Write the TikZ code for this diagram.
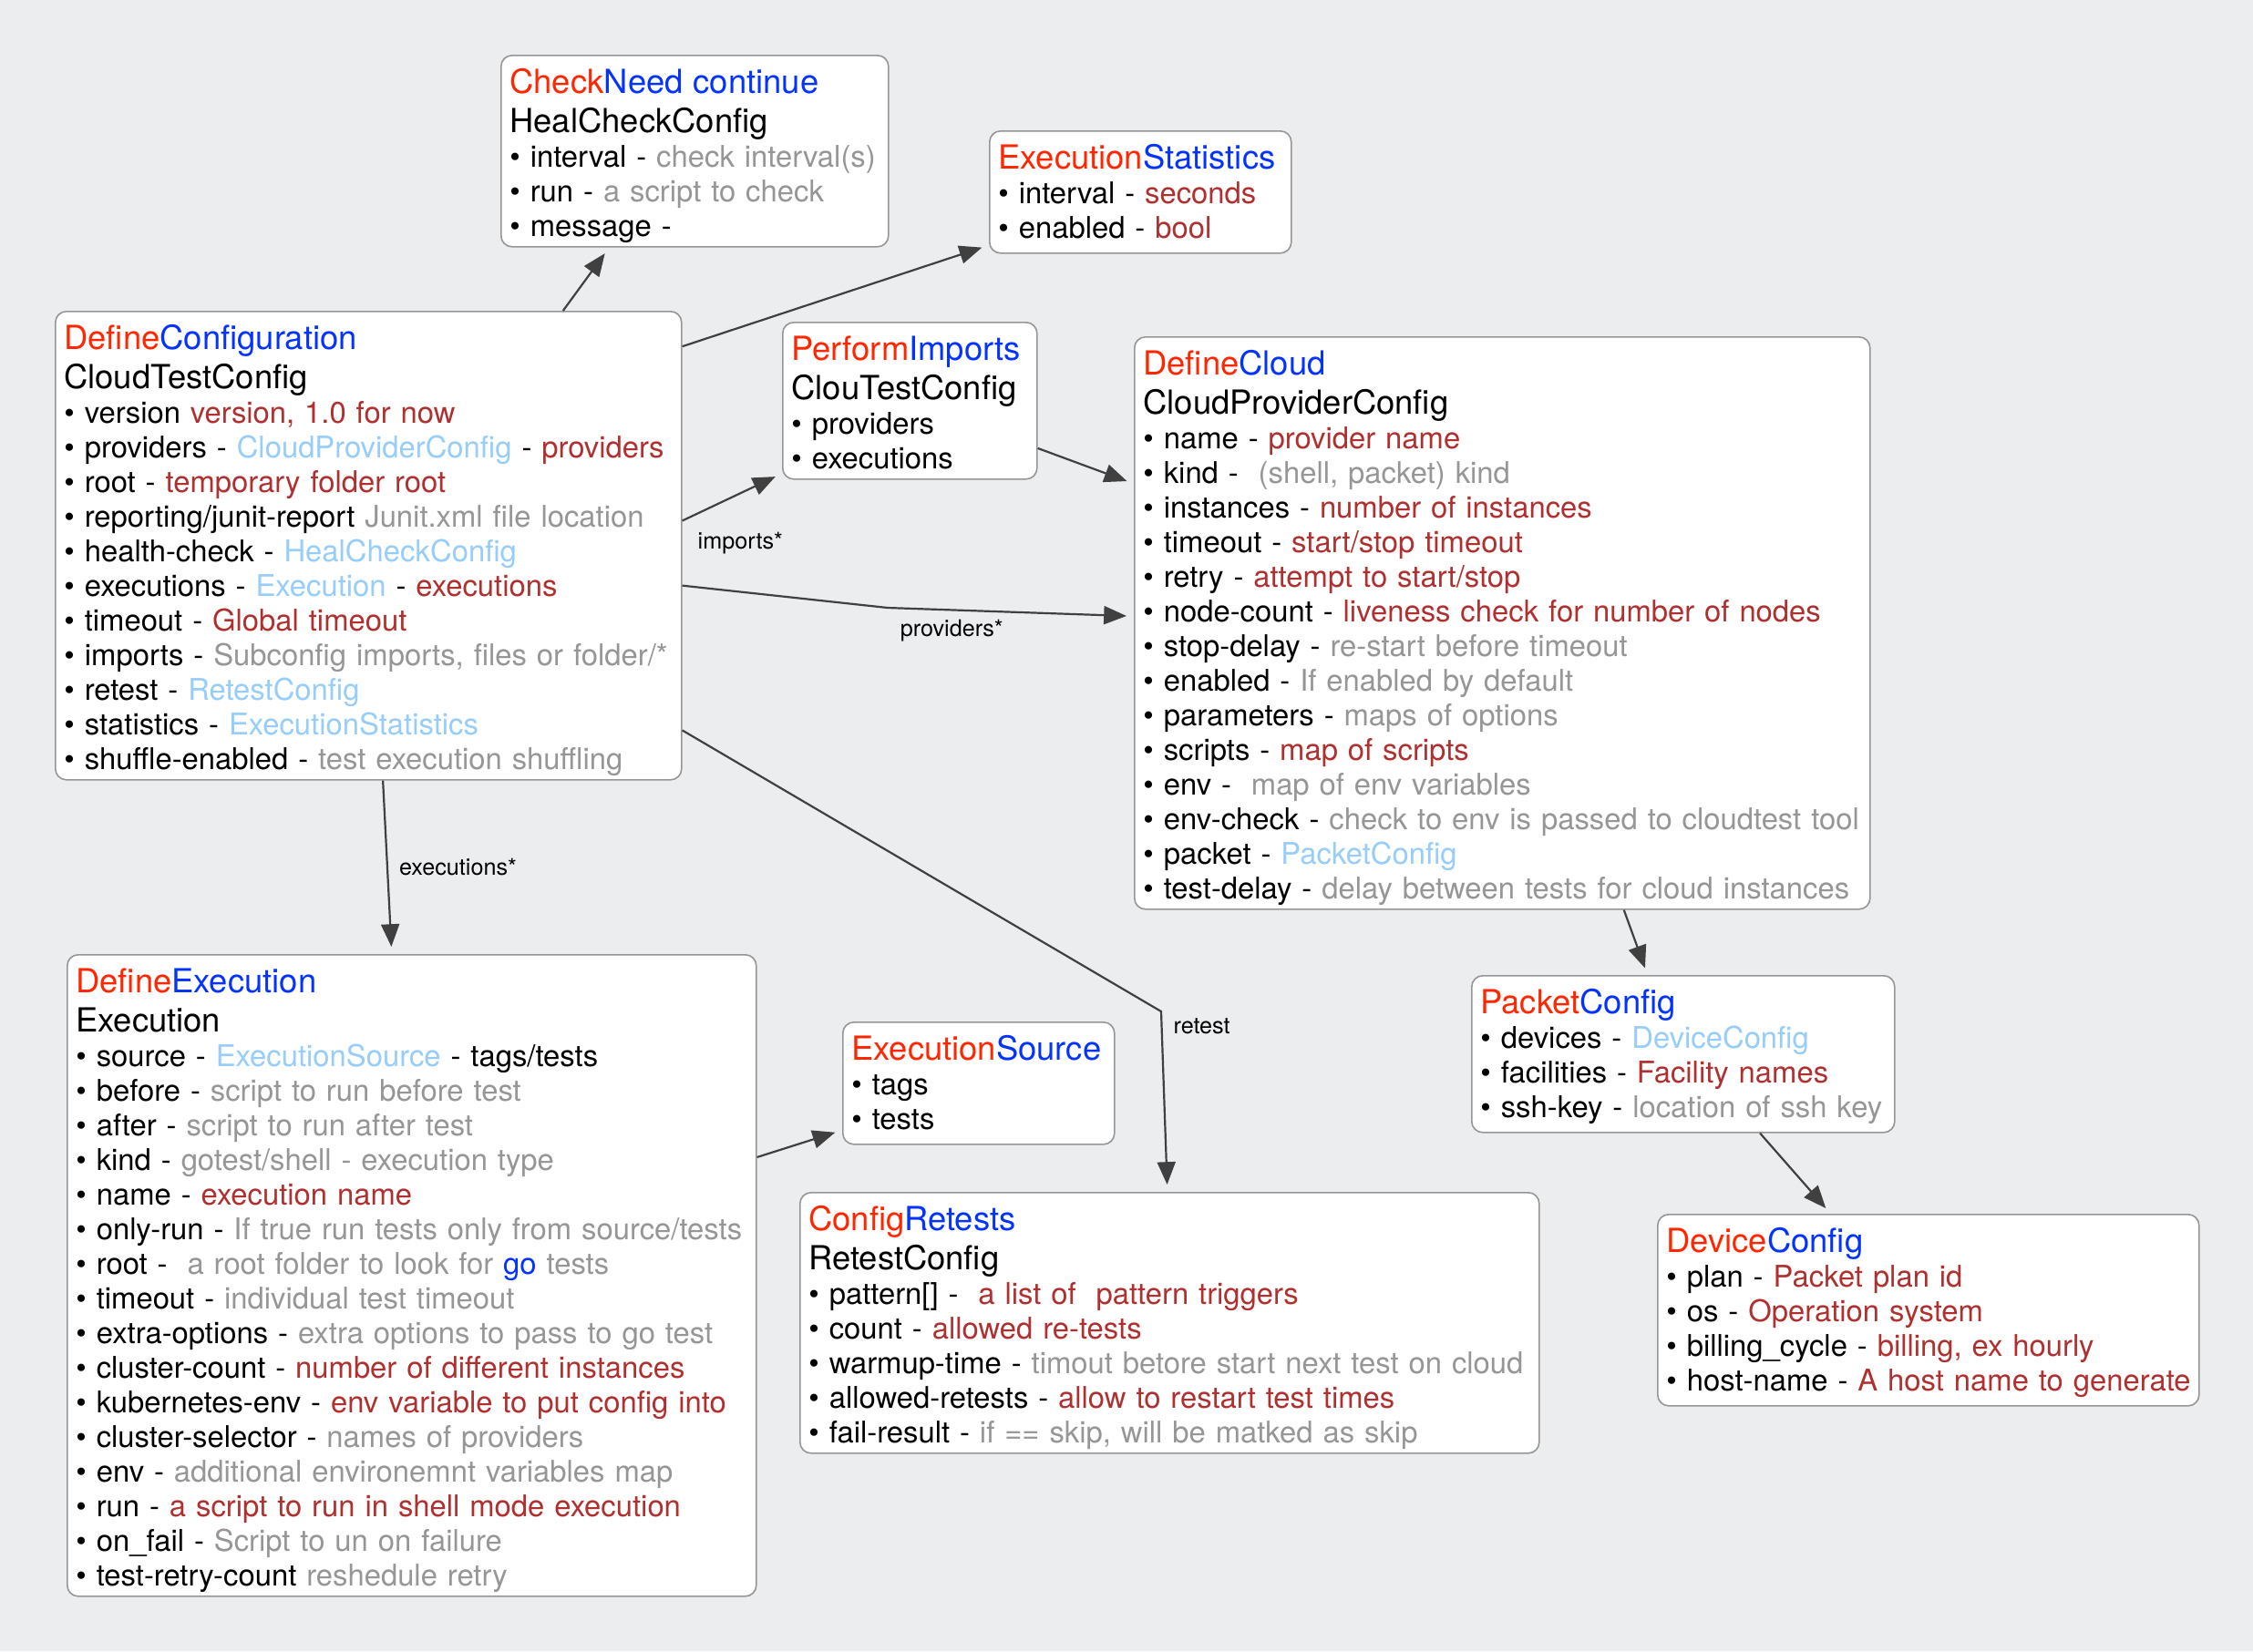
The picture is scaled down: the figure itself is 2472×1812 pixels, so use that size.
\documentclass[tikz,border=0pt]{standalone}
\usepackage{fontspec}
\setmainfont{TeX Gyre Heros}
\usepackage{xcolor}
\usepackage{tikz}
\usetikzlibrary{positioning, arrows.meta, calc}

\definecolor{hdred}{RGB}{255,38,0}
\definecolor{hdblue}{RGB}{4,51,255}
\definecolor{descred}{RGB}{176,48,48}
\definecolor{descgray}{RGB}{150,150,150}
\definecolor{reflink}{RGB}{150,205,250}
\definecolor{canvas}{RGB}{236,237,239}
\definecolor{edgegray}{RGB}{64,64,64}
\definecolor{boxline}{RGB}{150,150,150}

\newcommand{\lstrut}[1][7.9pt]{\vrule width 0pt height #1 depth 1.6pt}
\newcommand{\hdr}[3][7.9pt]{\mbox{\fontsize{9.1}{9.5}\selectfont\lstrut[#1]\smash{\textcolor{hdred}{#2}\textcolor{hdblue}{#3}}}}
\newcommand{\typename}[1]{\mbox{\fontsize{9.1}{9.5}\selectfont\lstrut\smash{#1}}}
\newcommand{\itm}[1]{\mbox{\lstrut\smash{\textbullet\ #1}}}
\newcommand{\dred}[1]{\textcolor{descred}{#1}}
\newcommand{\dgry}[1]{\textcolor{descgray}{#1}}
\newcommand{\lnk}[1]{\textcolor{reflink}{#1}}

\tikzstyle{arrow} = [draw=edgegray, line width=0.55pt, -{Triangle[length=6.2pt,width=5pt]}, shorten >=2pt]

\begin{document}
\begin{tikzpicture}[x=0.25pt, y=-0.25pt,
    cfgbox/.style={rectangle, draw=boxline, line width=0.4pt, fill=white, rounded corners=3pt, anchor=north west, align=left, inner xsep=2.4pt, inner ysep=2.5pt, font=\fontsize{8.2}{9.5}\selectfont},
    typedbox/.style={cfgbox, inner ysep=1.3pt},
    lbl/.style={font=\fontsize{6.3}{7}\selectfont, text=black, inner sep=1pt}]

    % canvas
    \fill[canvas] (0,0) rectangle (2472,1812);
    \useasboundingbox (0,0) rectangle (2472,1812);

    % top row
    \node[typedbox, text width=101.45pt] (heal) at (549,60) {\hdr[9.1pt]{Check}{Need continue}\\[1.2pt]
        \typename{HealCheckConfig}\\
        \itm{interval - \dgry{check interval(s)}}\\
        \itm{run - \dgry{a script to check}}\\
        \itm{message -}};
    \node[cfgbox, text width=77.95pt] (stats) at (1085,143) {\hdr{Execution}{Statistics}\\
        \itm{interval - \dred{seconds}}\\
        \itm{enabled - \dred{bool}}};

    % main config
    \node[typedbox, text width=166.95pt] (conf) at (60,341) {\hdr[9.1pt]{Define}{Configuration}\\[1.2pt]
        \typename{CloudTestConfig}\\
        \itm{version \dred{version, 1.0 for now}}\\
        \itm{providers - \lnk{CloudProviderConfig} - \dred{providers}}\\
        \itm{root - \dred{temporary folder root}}\\
        \itm{reporting/junit-report \dgry{Junit.xml file location}}\\
        \itm{health-check - \lnk{HealCheckConfig}}\\
        \itm{executions - \lnk{Execution} - \dred{executions}}\\
        \itm{timeout - \dred{Global timeout}}\\
        \itm{imports - \dgry{Subconfig imports, files or folder/*}}\\
        \itm{retest - \lnk{RetestConfig}}\\
        \itm{statistics - \lnk{ExecutionStatistics}}\\
        \itm{shuffle-enabled - \dgry{test execution shuffling}}};
    \node[typedbox, text width=64.95pt] (imp) at (858,353) {\hdr[9.1pt]{Perform}{Imports}\\[1.2pt]
        \typename{ClouTestConfig}\\
        \itm{providers}\\
        \itm{executions}};

    % cloud providers
    \node[typedbox, text width=196.95pt] (cloud) at (1244,369) {\hdr[9.1pt]{Define}{Cloud}\\[1.2pt]
        \typename{CloudProviderConfig}\\
        \itm{name - \dred{provider name}}\\
        \itm{kind - \ \dgry{(shell, packet) kind}}\\
        \itm{instances - \dred{number of instances}}\\
        \itm{timeout - \dred{start/stop timeout}}\\
        \itm{retry - \dred{attempt to start/stop}}\\
        \itm{node-count - \dred{liveness check for number of nodes}}\\
        \itm{stop-delay - \dgry{re-start before timeout}}\\
        \itm{enabled - \dgry{If enabled by default}}\\
        \itm{parameters - \dgry{maps of options}}\\
        \itm{scripts - \dred{map of scripts}}\\
        \itm{env - \ \dgry{map of env variables}}\\
        \itm{env-check - \dgry{check to env is passed to cloudtest tool}}\\
        \itm{packet - \lnk{PacketConfig}}\\
        \itm{test-delay - \dgry{delay between tests for cloud instances}}};
    \node[cfgbox, text width=111.2pt] (packet) at (1614,1070) {\hdr{Packet}{Config}\\
        \itm{devices - \lnk{DeviceConfig}}\\
        \itm{facilities - \dred{Facility names}}\\
        \itm{ssh-key - \dgry{location of ssh key}}};
    \node[cfgbox, text width=143.7pt] (device) at (1818,1332) {\hdr{Device}{Config}\\
        \itm{plan - \dred{Packet plan id}}\\
        \itm{os - \dred{Operation system}}\\
        \itm{billing\_cycle - \dred{billing, ex hourly}}\\
        \itm{host-name - \dred{A host name to generate}}};

    % executions
    \node[typedbox, text width=184.2pt] (exec) at (73,1047) {\hdr[9.1pt]{Define}{Execution}\\[1.2pt]
        \typename{Execution}\\
        \itm{source - \lnk{ExecutionSource} - tags/tests}\\
        \itm{before - \dgry{script to run before test}}\\
        \itm{after - \dgry{script to run after test}}\\
        \itm{kind - \dgry{gotest/shell - execution type}}\\
        \itm{name - \dred{execution name}}\\
        \itm{only-run - \dgry{If true run tests only from source/tests}}\\
        \itm{root - \ \dgry{a root folder to look for \textcolor{hdblue}{go} tests}}\\
        \itm{timeout - \dgry{individual test timeout}}\\
        \itm{extra-options - \dgry{extra options to pass to go test}}\\
        \itm{cluster-count - \dred{number of different instances}}\\
        \itm{kubernetes-env - \dred{env variable to put config into}}\\
        \itm{cluster-selector - \dgry{names of providers}}\\
        \itm{env - \dgry{additional environemnt variables map}}\\
        \itm{run - \dred{a script to run in shell mode execution}}\\
        \itm{on\_fail - \dgry{Script to un on failure}}\\
        \itm{test-retry-count \dgry{reshedule retry}}};
    \node[cfgbox, text width=69.7pt] (src) at (924,1121) {\hdr{Execution}{Source}\\
        \itm{tags}\\
        \itm{tests}};
    \node[typedbox, text width=197.95pt] (retest) at (877,1308) {\hdr[9.1pt]{Config}{Retests}\\[1.2pt]
        \typename{RetestConfig}\\
        \itm{pattern[] - \ \dred{a list of \ pattern triggers}}\\
        \itm{count - \dred{allowed re-tests}}\\
        \itm{warmup-time - \dgry{timout betore start next test on cloud}}\\
        \itm{allowed-retests - \dred{allow to restart test times}}\\
        \itm{fail-result - \dgry{if == skip, will be matked as skip}}};

    % bend points
    \coordinate (provbend) at (974,667);
    \coordinate (retbend) at (1274,1110);

    % arrows
    \draw[arrow] ($(conf.north west)!0.81!(conf.north east)$) -- ($(heal.south west)!0.28!(heal.south east)$);
    \draw[arrow] ($(conf.north east)!0.076!(conf.south east)$) -- ($(stats.north west)!0.93!(stats.south west)$);
    \draw[arrow] ($(conf.north east)!0.447!(conf.south east)$) -- node[lbl, pos=0, anchor=north west, xshift=3pt, yshift=-2pt] {imports*} ($(imp.north west)!0.96!(imp.south west)$);
    \draw[arrow] ($(imp.north east)!0.8!(imp.south east)$) -- ($(cloud.north west)!0.257!(cloud.south west)$);
    \draw[arrow] ($(conf.north east)!0.585!(conf.south east)$) -- (provbend) -- node[lbl, pos=0.26, below=1.5pt] {providers*} ($(cloud.north west)!0.488!(cloud.south west)$);
    \draw[arrow] ($(conf.south west)!0.523!(conf.south east)$) -- node[lbl, right=2pt] {executions*} ($(exec.north west)!0.471!(exec.north east)$);
    \draw[arrow] ($(conf.north east)!0.893!(conf.south east)$) -- (retbend) -- node[lbl, pos=0.08, right=2pt] {retest} ($(retest.north west)!0.497!(retest.north east)$);
    \draw[arrow] ($(exec.north east)!0.316!(exec.south east)$) -- ($(src.north west)!0.88!(src.south west)$);
    \draw[arrow] ($(cloud.south west)!0.665!(cloud.south east)$) -- ($(packet.north west)!0.416!(packet.north east)$);
    \draw[arrow] ($(packet.south west)!0.681!(packet.south east)$) -- ($(device.north west)!0.32!(device.north east)$);

\end{tikzpicture}
\end{document}
